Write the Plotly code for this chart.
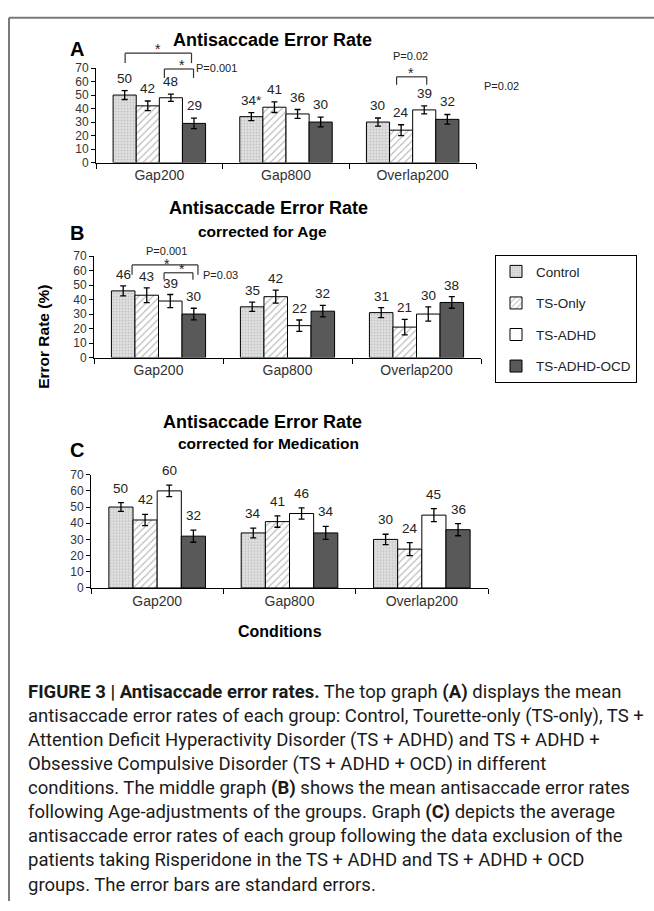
import plotly.graph_objects as go

W, H = 654, 911

conditions = ["Gap200", "Gap800", "Overlap200"]
groups = ["Control", "TS-Only", "TS-ADHD", "TS-ADHD-OCD"]

# Panel A: Antisaccade Error Rate
a_control = [50, 34, 30]
a_ts_only = [42, 41, 24]
a_ts_adhd = [48, 36, 39]
a_ts_adhd_ocd = [29, 30, 32]
a_err_control = [3.3, 3.0, 3.0]
a_err_ts_only = [3.6, 3.9, 4.0]
a_err_ts_adhd = [2.7, 3.3, 3.0]
a_err_ts_adhd_ocd = [3.9, 3.6, 3.6]
a_suffix_control = ["", "*", ""]

# Panel B: corrected for Age
b_control = [46, 35, 31]
b_ts_only = [43, 42, 21]
b_ts_adhd = [39, 22, 30]
b_ts_adhd_ocd = [30, 32, 38]
b_err_control = [3.4, 3.2, 3.4]
b_err_ts_only = [5.1, 4.5, 5.3]
b_err_ts_adhd = [4.5, 3.9, 4.9]
b_err_ts_adhd_ocd = [4.0, 4.0, 4.0]

# Panel C: corrected for Medication
c_control = [50, 34, 30]
c_ts_only = [42, 41, 24]
c_ts_adhd = [60, 46, 45]
c_ts_adhd_ocd = [32, 34, 36]
c_err_control = [2.7, 3.0, 3.2]
c_err_ts_only = [3.5, 3.5, 4.0]
c_err_ts_adhd = [3.5, 3.5, 4.0]
c_err_ts_adhd_ocd = [3.75, 4.0, 3.75]

y_ticks = [0, 10, 20, 30, 40, 50, 60, 70]
Y_MAX = 70

caption_lines = [
    "<b>FIGURE 3 | Antisaccade error rates.</b> The top graph <b>(A)</b> displays the mean",
    "antisaccade error rates of each group: Control, Tourette-only (TS-only), TS +",
    "Attention Deficit Hyperactivity Disorder (TS + ADHD) and TS + ADHD +",
    "Obsessive Compulsive Disorder (TS + ADHD + OCD) in different",
    "conditions. The middle graph <b>(B)</b> shows the mean antisaccade error rates",
    "following Age-adjustments of the groups. Graph <b>(C)</b> depicts the average",
    "antisaccade error rates of each group following the data exclusion of the",
    "patients taking Risperidone in the TS + ADHD and TS + ADHD + OCD",
    "groups. The error bars are standard errors.",
]


def px(p):
    return p / W


def py(p):
    return 1 - p / H


styles = [
    dict(color="#d9d9d9", line=dict(color="black", width=1),
         pattern=dict(shape=".", fgcolor="#a6a6a6", bgcolor="#e2e2e2", size=3, solidity=0.4)),
    dict(color="white", line=dict(color="black", width=1),
         pattern=dict(shape="/", fgcolor="#7a7a7a", bgcolor="white", size=5, solidity=0.25)),
    dict(color="white", line=dict(color="black", width=1)),
    dict(color="#595959", line=dict(color="black", width=1)),
]

BARGAP = 0.27
BAR_W = (1 - BARGAP) / 4

panels = [
    dict(ax="", vals=[a_control, a_ts_only, a_ts_adhd, a_ts_adhd_ocd],
         errs=[a_err_control, a_err_ts_only, a_err_ts_adhd, a_err_ts_adhd_ocd],
         xdom=[px(96), px(476)], ydom=[py(158), py(62)], shift=3, font="Arial"),
    dict(ax="2", vals=[b_control, b_ts_only, b_ts_adhd, b_ts_adhd_ocd],
         errs=[b_err_control, b_err_ts_only, b_err_ts_adhd, b_err_ts_adhd_ocd],
         xdom=[px(94), px(481)], ydom=[py(356), py(253)], shift=2, font="Arial"),
    dict(ax="3", vals=[c_control, c_ts_only, c_ts_adhd, c_ts_adhd_ocd],
         errs=[c_err_control, c_err_ts_only, c_err_ts_adhd, c_err_ts_adhd_ocd],
         xdom=[px(91), px(488)], ydom=[py(590), py(475)], shift=5,
         font="Liberation Sans Narrow, Arial Narrow, Arial"),
]

fig = go.Figure()
annotations = []
shapes = []

for pi, p in enumerate(panels):
    for gi, g in enumerate(groups):
        fig.add_trace(go.Bar(
            x=conditions, y=p["vals"][gi], name=g,
            xaxis="x" + p["ax"], yaxis="y" + p["ax"],
            marker=styles[gi], legendgroup=g, showlegend=(pi == 0),
            error_y=dict(type="data", array=p["errs"][gi], color="black",
                         thickness=1.3, width=3),
        ))
        for ci in range(len(conditions)):
            v = p["vals"][gi][ci]
            label = str(v)
            if pi == 0 and gi == 0:
                label += a_suffix_control[ci]
            annotations.append(dict(
                xref="x" + p["ax"], yref="y" + p["ax"],
                x=ci + (gi - 1.5) * BAR_W, y=v + p["errs"][gi][ci],
                text=label, showarrow=False, xanchor="center", yanchor="bottom",
                yshift=p["shift"],
                font=dict(family=p["font"], size=13.5, color="#222"),
            ))

layout_axes = {}
for p in panels:
    sfx = p["ax"]
    layout_axes["xaxis" + sfx] = dict(
        domain=p["xdom"], anchor="y" + sfx, type="category",
        range=[-0.5, 2.5], showline=True, linecolor="black", linewidth=1,
        ticks="outside", tickson="boundaries", ticklen=5, tickcolor="black",
        showgrid=False, zeroline=False,
        tickfont=dict(family="Arial", size=14, color="#333"),
    )
    layout_axes["yaxis" + sfx] = dict(
        domain=p["ydom"], anchor="x" + sfx, range=[0, Y_MAX],
        tickvals=y_ticks, showline=True, linecolor="black", linewidth=1,
        ticks="outside", ticklen=4, tickcolor="black",
        showgrid=False, zeroline=False,
        tickfont=dict(family="Arial", size=12, color="#333"),
    )


def bracket(sfx, x0, x1, top, leg0, leg1, star_x=None, star_y=None):
    xr = "x" + sfx
    yr = "y" + sfx + " domain"
    ln = dict(color="#333", width=1.2)
    shapes.append(dict(type="line", xref=xr, yref=yr, x0=x0, x1=x1,
                       y0=top / Y_MAX, y1=top / Y_MAX, line=ln))
    shapes.append(dict(type="line", xref=xr, yref=yr, x0=x0, x1=x0,
                       y0=top / Y_MAX, y1=leg0 / Y_MAX, line=ln))
    shapes.append(dict(type="line", xref=xr, yref=yr, x0=x1, x1=x1,
                       y0=top / Y_MAX, y1=leg1 / Y_MAX, line=ln))
    if star_x is not None:
        annotations.append(dict(xref=xr, yref=yr, x=star_x, y=star_y / Y_MAX,
                                text="*", showarrow=False,
                                xanchor="center", yanchor="middle",
                                font=dict(family="Arial", size=14, color="#222")))


def ptext(sfx, x, y, text):
    annotations.append(dict(xref="x" + sfx, yref="y" + sfx + " domain", x=x,
                            y=y / Y_MAX, text=text, showarrow=False,
                            xanchor="center", yanchor="middle",
                            font=dict(family="Arial", size=11, color="#222")))


# Panel A significance markers
bracket("", -0.27, 0.254, 81, 73.7, 73.7, -0.01, 84)
bracket("", 0.04, 0.27, 69.3, 62.7, 62.7, 0.18, 72.5)
ptext("", 0.45, 70, "P=0.001")
bracket("", 1.873, 2.111, 63.5, 57.6, 57.6, 1.984, 66.5)
ptext("", 1.984, 79, "P=0.02")
annotations.append(dict(xref="paper", yref="paper", x=px(501), y=py(80),
                        text="P=0.02", showarrow=False,
                        xanchor="center", yanchor="middle",
                        font=dict(family="Arial", size=11, color="#222")))

# Panel B significance markers (P value and its star share one text block)
bracket("2", -0.205, 0.306, 63.9, 57.1, 57.1)
annotations.append(dict(xref="x2", yref="y2 domain", x=0.065, y=68.5 / Y_MAX,
                        text="P=0.001<br><span style='font-size:14px'>*</span>",
                        showarrow=False, xanchor="center", yanchor="middle",
                        font=dict(family="Arial", size=11, color="#222")))
bracket("2", 0.043, 0.267, 58.5, 53.7, 53.7, 0.18, 61.3)
ptext("2", 0.484, 57.1, "P=0.03")

# Titles
title_font = dict(family="Arial", size=18, color="black")
sub_font = dict(family="Arial", size=15.5, color="black")
letter_font = dict(family="Arial", size=20, color="black")
for x, y, t, f in [
    (272, 34, "<b>Antisaccade Error Rate</b>", title_font),
    (77, 43, "<b>A</b>", letter_font),
    (268, 204, "<b>Antisaccade Error Rate</b>", title_font),
    (262, 228, "<b>corrected for Age</b>", sub_font),
    (77, 230, "<b>B</b>", letter_font),
    (262, 421, "<b>Antisaccade Error Rate</b>", title_font),
    (268, 443, "<b>corrected for Medication</b>", sub_font),
    (77, 450, "<b>C</b>", letter_font),
    (280, 634, "<b>Conditions</b>", dict(family="Arial", size=16, color="black")),
]:
    annotations.append(dict(xref="paper", yref="paper", x=px(x), y=py(y),
                            text=t, showarrow=False, font=f,
                            xanchor="center", yanchor="middle"))

annotations.append(dict(xref="paper", yref="paper", x=px(44), y=py(335),
                        text="<b>Error Rate (%)</b>", textangle=-90,
                        showarrow=False,
                        font=dict(family="Arial", size=15.5, color="black"),
                        xanchor="center", yanchor="middle"))

# Caption
for i, line in enumerate(caption_lines):
    annotations.append(dict(xref="paper", yref="paper", x=px(26),
                            y=py(696 + 24.4 * i), text=line, showarrow=False,
                            xanchor="left", yanchor="middle", align="left",
                            font=dict(family="Roboto, Arial",
                                      size=18.5, color="#1a1a1a")))

# Frame
frame = dict(color="#7a7a7a", width=2)
shapes.append(dict(type="line", xref="paper", yref="paper", x0=px(9), x1=1,
                   y0=py(11), y1=py(11), line=frame))
shapes.append(dict(type="line", xref="paper", yref="paper", x0=px(9), x1=px(9),
                   y0=py(11), y1=py(908), line=frame))

fig.update_layout(
    width=W, height=H, margin=dict(l=0, r=0, t=0, b=0),
    paper_bgcolor="white", plot_bgcolor="white",
    barmode="group", bargap=BARGAP, bargroupgap=0,
    showlegend=True,
    legend=dict(x=px(495), y=py(252), xanchor="left", yanchor="top",
                bordercolor="black", borderwidth=1, bgcolor="white",
                font=dict(family="Arial", size=13.5, color="#222"),
                tracegroupgap=11, itemwidth=30, traceorder="grouped"),
    annotations=annotations, shapes=shapes,
    **layout_axes,
)

fig.write_html("out.html", config={"displayModeBar": False},
               post_script="document.body.style.margin='0';document.body.style.overflow='hidden';")
